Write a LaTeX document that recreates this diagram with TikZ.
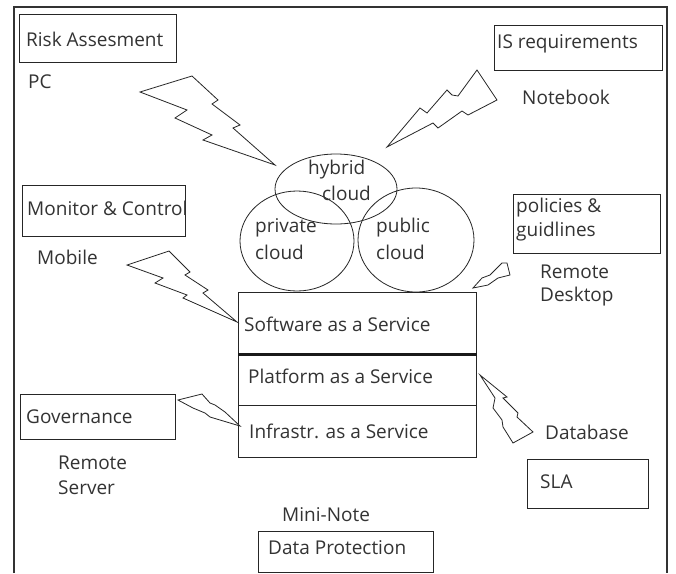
\documentclass[tikz,border=0pt]{standalone}
\usepackage{fontspec}
\setmainfont{Open Sans}
\begin{document}
\begin{tikzpicture}[x=1pt,y=-1pt,
  lbl/.style={anchor=west,inner sep=0pt,text=black!80,font=\fontsize{19}{22}\selectfont},
  boxst/.style={draw=black!85,line width=1.3pt,anchor=north west,inner sep=0pt},
  bolt/.style={draw=black!85,line width=0.8pt,fill=white,line join=miter}]
\useasboundingbox (0,0) rectangle (676,573);
\fill[white] (0,0) rectangle (676,573);
% outer frame
\draw[black!80,line width=1.6pt] (14,573) -- (14,7) -- (667,7) -- (667,573);
% boxes
\node[boxst,minimum width=157pt,minimum height=48pt] (riskbox) at (19,14) {};
\node[boxst,minimum width=168pt,minimum height=45pt] (isbox) at (494,25) {};
\node[boxst,minimum width=163pt,minimum height=51pt] (monbox) at (22,185) {};
\node[boxst,minimum width=147pt,minimum height=59pt] (polbox) at (513,194) {};
\node[boxst,minimum width=155pt,minimum height=45pt] (govbox) at (20,394) {};
\node[boxst,minimum width=121pt,minimum height=49pt] (slabox) at (527,459) {};
\node[boxst,minimum width=175pt,minimum height=41pt] (dpbox) at (258,531) {};
% service stack
\node[boxst,minimum width=238pt,minimum height=61pt] (saas) at (238,292) {};
\node[boxst,minimum width=238pt,minimum height=52pt] (paas) at (238,353) {};
\node[boxst,minimum width=238pt,minimum height=52pt] (iaas) at (238,405) {};
\draw[black!90,line width=2.4pt] (saas.south west) -- (saas.south east);
% clouds
\draw[black!85,line width=0.8pt] (336,189) ellipse [x radius=61, y radius=35];
\draw[black!85,line width=0.8pt] (297,241) ellipse [x radius=57, y radius=50];
\draw[black!85,line width=0.8pt] (416,240) ellipse [x radius=58, y radius=52];
\coordinate (hybrid) at (275,165);
% texts
\node[lbl] (t1) at (26,39) {Risk Assesment};
\node[lbl] (t2) at (28,82) {PC};
\node[lbl] (t3) at (497,44) {IS requirements};
\node[lbl] (t4) at (522,97) {Notebook};
\node[lbl] (t5) at (27,208) {Monitor \& Control};
\node[lbl] (t6) at (37,257) {Mobile};
\node[lbl] (t7) at (308,170) {hybrid};
\node[lbl] (t8) at (322,193) {cloud};
\node[lbl] (t9) at (255,228) {private};
\node[lbl] (t10) at (255,252) {cloud};
\node[lbl] (t11) at (376,228) {public};
\node[lbl] (t12) at (376,252) {cloud};
\node[lbl] (t13) at (244,324) {Software as a Service};
\node[lbl] (t14) at (248,376) {Platform as a Service};
\node[lbl] (t15) at (249,431) {Infrastr. as a Service};
\node[lbl] (t16) at (516,208) {policies \&};
\node[lbl] (t17) at (516,232) {guidlines};
\node[lbl] (t18) at (540,272) {Remote};
\node[lbl] (t19) at (540,297) {Desktop};
\node[lbl] (t20) at (26,417) {Governance};
\node[lbl] (t21) at (58,463) {Remote};
\node[lbl] (t22) at (58,488) {Server};
\node[lbl] (t23) at (282,515) {Mini-Note};
\node[lbl] (t24) at (268,548) {Data Protection};
\node[lbl] (t25) at (545,432) {Database};
\node[lbl] (t26) at (540,482) {SLA};
% lightning bolts
\draw[bolt] (140,92) -- (192,76) -- (218,100) -- (212,104) -- (240,125) -- (233,128) -- (hybrid)
  -- (203,140) -- (212,135) -- (175,118) -- (187,110) -- cycle;
\draw[bolt] (387,147) -- (420,108) -- (427,113) -- (447,90) -- (452,95) -- (458,96) -- (477,70)
  -- (497,100) -- (468,115) -- (462,111) -- (438,128) -- (433,123) -- cycle;
\draw[bolt] (127,265) -- (169,251) -- (190,272) -- (185,275) -- (208,290) -- (203,293) -- (237,322)
  -- (183,298) -- (187,295) -- (155,283) -- (163,278) -- cycle;
\draw[bolt] (473,288) -- (482,278) -- (490,275) -- (502,263) -- (507,263) -- (510,275)
  -- (498,278) -- (488,285) -- cycle;
\draw[bolt] (178,400) -- (202,394) -- (210,403) -- (215,405) -- (225,412) -- (240,426)
  -- (210,417) -- (205,413) -- (193,408) -- cycle;
\draw[bolt] (480,375) -- (507,397) -- (503,398) -- (518,413) -- (517,417) -- (533,432)
  -- (513,443) -- (503,427) -- (502,420) -- (493,408) -- (495,398) -- cycle;
\end{tikzpicture}
\end{document}
